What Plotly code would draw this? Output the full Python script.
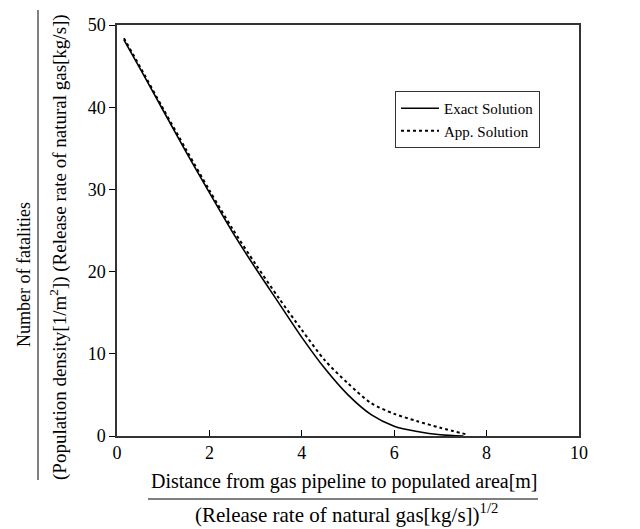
import plotly.graph_objects as go

# values
exact_x = [0.15, 0.5, 1.0, 1.5, 2.0, 2.5, 3.0, 3.5, 4.0, 4.5, 5.0, 5.5, 6.0, 6.5, 7.0, 7.5]
exact_y = [48.2, 44.7, 39.6, 34.5, 29.6, 24.8, 20.4, 16.2, 12.0, 8.2, 5.0, 2.6, 1.2, 0.55, 0.15, 0.0]

app_x = [0.15, 0.5, 1.0, 1.5, 2.0, 2.5, 3.0, 3.5, 4.0, 4.5, 5.0, 5.5, 6.0, 6.5, 7.0, 7.6]
app_y = [48.4, 44.9, 39.8, 34.8, 29.9, 25.2, 20.9, 16.8, 12.9, 9.2, 6.4, 4.0, 2.7, 1.8, 1.0, 0.15]

x_ticks = [0, 2, 4, 6, 8, 10]
y_ticks = [0, 10, 20, 30, 40, 50]

FONT = "Liberation Serif"
W, H = 640, 529

# plot area in page pixels
L, R, T, B = 117, 579, 25, 436


def px(x):
    return (x - L) / (R - L)


def py(y):
    return (B - y) / (B - T)


fig = go.Figure()

fig.add_trace(go.Scatter(
    name="Exact Solution",
    x=exact_x,
    y=exact_y,
    mode="lines",
    line=dict(color="black", width=1.6, shape="spline", smoothing=0.8),
))

fig.add_trace(go.Scatter(
    name="App. Solution",
    x=app_x,
    y=app_y,
    mode="lines",
    line=dict(color="black", width=2, dash="dot", shape="spline", smoothing=0.8),
))

fig.update_layout(
    width=W,
    height=H,
    paper_bgcolor="white",
    plot_bgcolor="white",
    margin=dict(l=L, r=W - R, t=T, b=H - B, pad=0),
    font=dict(family=FONT, size=18, color="black"),
    legend=dict(
        x=px(395), y=py(91),
        xanchor="left", yanchor="top",
        bordercolor="#333333", borderwidth=1,
        bgcolor="white",
        font=dict(family=FONT, size=15),
        itemwidth=38,
        tracegroupgap=0,
    ),
    xaxis=dict(
        range=[0, 10],
        tickvals=x_ticks,
        ticks="inside",
        ticklen=6,
        tickcolor="black",
        showgrid=False,
        zeroline=False,
        showline=True,
        linecolor="#333333",
        linewidth=1.5,
        mirror=True,
        tickfont=dict(size=18),
    ),
    yaxis=dict(
        range=[0, 50],
        tickvals=y_ticks,
        ticks="outside",
        ticklen=6,
        tickcolor="black",
        showgrid=False,
        zeroline=False,
        showline=True,
        linecolor="#333333",
        linewidth=1.5,
        mirror=True,
        tickfont=dict(size=18),
    ),
    annotations=[
        dict(xref="paper", yref="paper", x=px(344), y=py(481),
             text="Distance from gas pipeline to populated area[m]",
             showarrow=False, font=dict(size=20), xanchor="center", yanchor="middle"),
        dict(xref="paper", yref="paper", x=px(346), y=py(513),
             text="(Release rate of natural gas[kg/s])<sup>1/2</sup>",
             showarrow=False, font=dict(size=21), xanchor="center", yanchor="middle"),
        dict(xref="paper", yref="paper", x=px(24), y=py(275),
             text="Number of fatalities", textangle=-90,
             showarrow=False, font=dict(size=18), xanchor="center", yanchor="middle"),
        dict(xref="paper", yref="paper", x=px(58), y=py(247),
             text="(Population density[1/m<sup>2</sup>]) (Release rate of natural gas[kg/s])",
             textangle=-90,
             showarrow=False, font=dict(size=19), xanchor="center", yanchor="middle"),
    ],
    shapes=[
        dict(type="line", xref="paper", yref="paper",
             x0=px(148), x1=px(538), y0=py(499), y1=py(499),
             line=dict(color="black", width=1)),
        dict(type="line", xref="paper", yref="paper",
             x0=px(38), x1=px(38), y0=py(10), y1=py(480),
             line=dict(color="black", width=1)),
    ],
)

# drop the browser's default 8px body margin so the figure sits at (0, 0)
fig.write_html("out.html", config={"displayModeBar": False},
               post_script="document.body.style.margin='0px';")
